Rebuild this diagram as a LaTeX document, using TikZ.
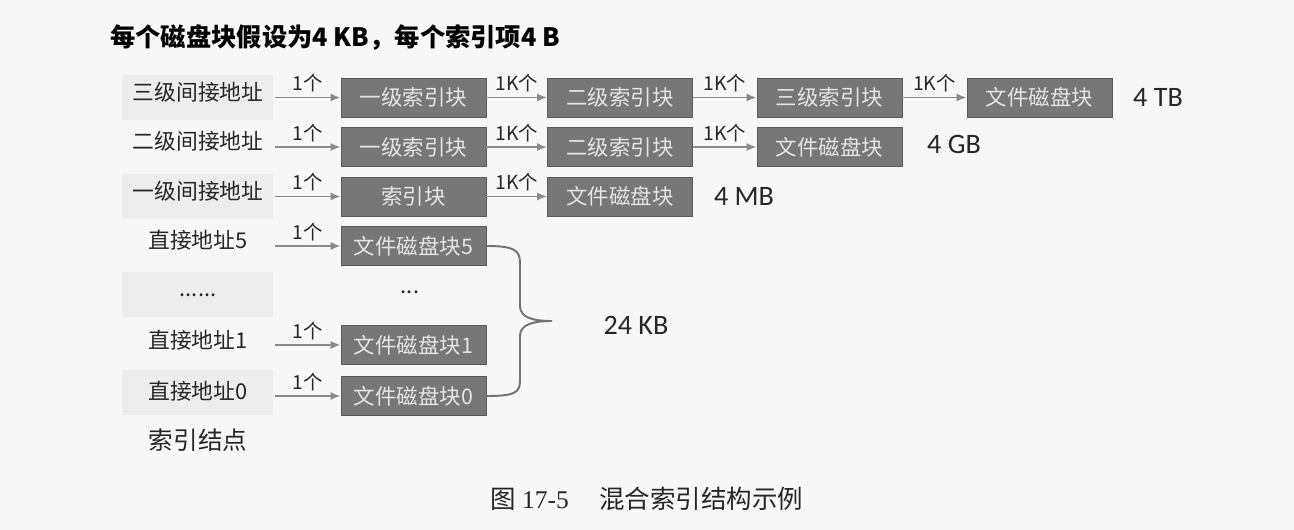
\documentclass[tikz,border=0pt]{standalone}
\usepackage{fontspec}
\setmainfont{Liberation Serif}
\newfontfamily\cjk{Noto Sans CJK SC}
\newfontfamily\calib{Carlito}
\usetikzlibrary{arrows.meta}
\definecolor{blkgray}{HTML}{777777}
\definecolor{lnkgray}{HTML}{8A8A8A}
\begin{document}
\begin{tikzpicture}[x=0.02cm, y=-0.02cm, every node/.style={inner sep=0pt}, >={Latex[length=2mm,width=1.6mm]}, blk/.style={draw=black!65, fill=blkgray, text=black!10, minimum width=2.9cm, minimum height=0.78cm, font=\cjk\fontsize{12.2}{14}\selectfont}, addr/.style={font=\cjk\fontsize{12.4}{14}\selectfont, text=black!85}, cnt/.style={above=2.5pt, font=\cjk\fontsize{11}{13}\selectfont, text=black!85}, lnk/.style={->, draw=lnkgray, line width=1.1pt}, sizelbl/.style={font=\calib\fontsize{16}{18}\selectfont, text=black!85}, shd/.style={fill=black!7}, brc/.style={draw=black!55, line width=1.1pt}]
	\fill[black!3] (0,0) rectangle (1294,530);
	\useasboundingbox (0,0) rectangle (1294,530);
	\foreach \y in {97.5,196.5,294,392.5} {\fill[shd] (122,{\y-22.5}) rectangle (273,{\y+22.5});}
	\node[anchor=west, font=\cjk\bfseries\fontsize{14.4}{16}\selectfont] (title) at (110,38) {每个磁盘块假设为4 KB，每个索引项4 B};
	\foreach \n/\y/\txt in {la3/92/三级间接地址, la2/141.5/二级间接地址, la1/191/一级间接地址, ld5/240.5/直接地址5, ld1/340/直接地址1, ld0/391/直接地址0} {\node[addr] (\n) at (198,\y) {\txt};}
	\node[addr] (ldd) at (198,295) {......};
	\node[font=\cjk\fontsize{14}{16}\selectfont, text=black!85] (inode) at (198,440) {索引结点};
	\foreach \n/\y in {t3/97.5, t2/147, t1/196.5, d5/246, d1/345, d0/396} {\coordinate (s\n) at (275,\y);}
	\node[blk] (t3a) at (413.5,97.5) {一级索引块};
	\node[blk] (t3b) at (620,97.5) {二级索引块};
	\node[blk] (t3c) at (829.5,97.5) {三级索引块};
	\node[blk] (t3d) at (1039.5,97.5) {文件磁盘块};
	\node[blk] (t2a) at (413.5,147) {一级索引块};
	\node[blk] (t2b) at (620,147) {二级索引块};
	\node[blk] (t2c) at (829.5,147) {文件磁盘块};
	\node[blk] (t1a) at (413.5,196.5) {索引块};
	\node[blk] (t1b) at (620,196.5) {文件磁盘块};
	\foreach \i/\y in {5/246, 1/345, 0/396} {\node[blk] (f\i) at (413.5,\y) {文件磁盘块\i};}
	\node[addr] (fdots) at (410,292) {...};
	\foreach \a/\b in {st3/t3a, st2/t2a, st1/t1a, sd5/f5, sd1/f1, sd0/f0} {\draw[lnk] (\a) -- node[cnt] {1个} (\b);}
	\foreach \a/\b in {t3a/t3b, t3b/t3c, t3c/t3d, t2a/t2b, t2b/t2c, t1a/t1b} {\draw[lnk] (\a) -- node[cnt] {1K个} (\b);}
	\node[sizelbl] (tb) at (1158,97) {4 TB};
	\node[sizelbl] (gb) at (954,144) {4 GB};
	\node[sizelbl] (mb) at (744,196) {4 MB};
	\node[sizelbl] (kb) at (636,325) {24 KB};
	\coordinate (tip) at (552,321);
	\draw[brc] (f5.east) .. controls (514,246) and (520,250) .. (520,263) -- (520,306) .. controls (520,318) and (534,321) .. (tip) .. controls (534,321) and (520,324) .. (520,336) -- (520,381) .. controls (520,393) and (514,396) .. (f0.east);
	\node[font=\cjk\fontsize{14.5}{16}\selectfont, text=black!85] (fig) at (647,499) {图 {\rmfamily 17-5}\hspace{1.2em}混合索引结构示例};
\end{tikzpicture}
\end{document}
